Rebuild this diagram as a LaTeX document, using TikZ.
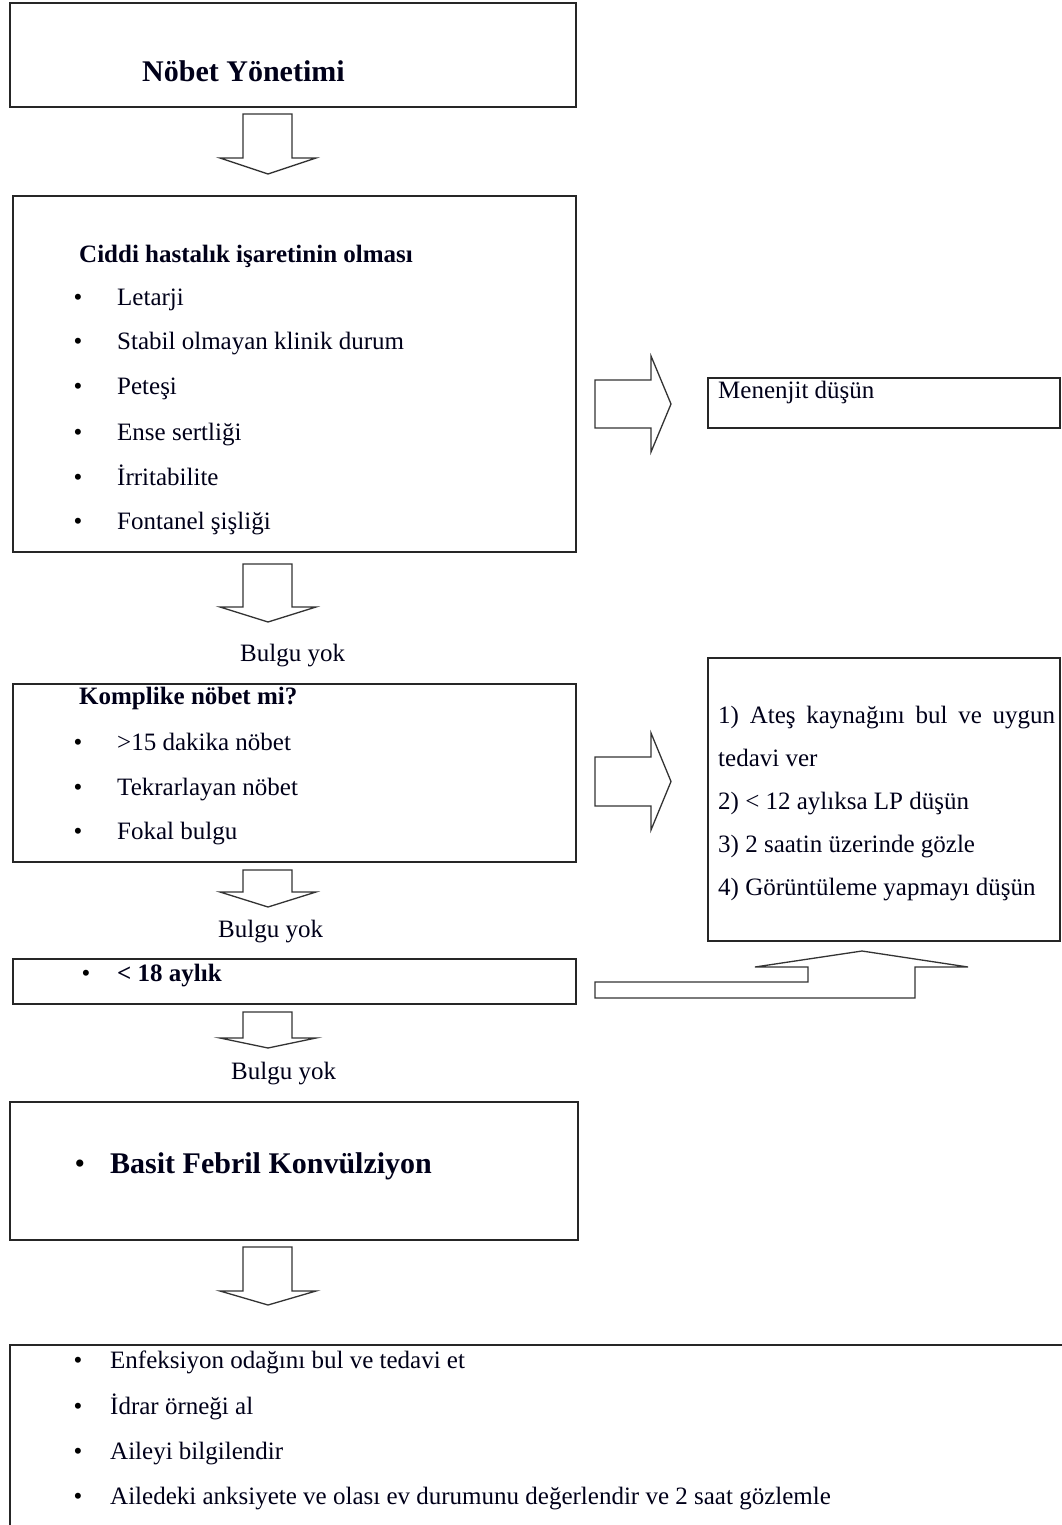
\documentclass[tikz,border=0pt]{standalone}
\usepackage{fontspec}
\setmainfont{Liberation Serif}
\tikzset{
  box/.style={draw=black!85, line width=1.4pt, anchor=north west, inner sep=0pt, outer sep=0pt},
  blk/.style={draw=black!80, line width=1.3pt, fill=white, line join=miter},
  txt/.style={anchor=base west, inner sep=0pt, text=black!90!blue, font=\fontsize{25}{30}\selectfont},
  btxt/.style={txt, font=\fontsize{25}{30}\selectfont\bfseries},
  bigtxt/.style={txt, font=\fontsize{30}{36}\selectfont\bfseries},
  bul/.style={anchor=base, inner sep=0pt, font=\fontsize{25}{30}\selectfont},
  bigbul/.style={anchor=base, inner sep=0pt, font=\fontsize{30}{36}\selectfont},
}
\newcommand\DArrowShape[3]{%
  \draw[blk] (243,#1) -- (292,#1) -- (292,#2) -- (316,#2) -- (268,#3) -- (220,#2) -- (243,#2) -- cycle;}
\newcommand\RArrowShape[4]{%
  \draw[blk] (595,#1) -- (651,#1) -- (651,#3) -- (671,{(#3+#4)/2}) -- (651,#4) -- (651,#2) -- (595,#2) -- cycle;}
\begin{document}
\begin{tikzpicture}[x=1pt,y=-1pt]
\clip (0,0) rectangle (1062,1525);
\fill[white] (0,0) rectangle (1062,1525);

% boxes
\node[box, minimum width=566pt, minimum height=104pt] (b1) at (10,3) {};
\node[box, minimum width=563pt, minimum height=356pt] (b2) at (13,196) {};
\node[box, minimum width=352pt, minimum height=50pt] (men) at (708,378) {};
\node[box, minimum width=563pt, minimum height=178pt] (b3) at (13,684) {};
\node[box, minimum width=352pt, minimum height=283pt] (rb) at (708,658) {};
\node[box, minimum width=563pt, minimum height=45pt] (b4) at (13,959) {};
\node[box, minimum width=568pt, minimum height=138pt] (b5) at (10,1102) {};
\node[box, minimum width=1070pt, minimum height=200pt] (b6) at (10,1345) {};

% block arrows
\DArrowShape{114}{158}{174}
\DArrowShape{564}{607}{622}
\DArrowShape{870}{892}{907}
\DArrowShape{1012}{1038}{1048}
\DArrowShape{1247}{1291}{1305}
\RArrowShape{380}{428}{356}{452}
\RArrowShape{757}{806}{733}{830}
\draw[blk] (595,982) -- (808,982) -- (808,967) -- (755,967) -- (862,951) -- (968,967)
  -- (915,967) -- (915,998) -- (595,998) -- cycle;

% texts
\node[bigtxt] (t1) at (142,82) {Nöbet Yönetimi};

\node[btxt] (t2) at (79,262) {Ciddi hastalık işaretinin olması};
\foreach \y/\s [count=\i] in {305/Letarji, 349/Stabil olmayan klinik durum, 394/Peteşi,
  440/Ense sertliği, 485/İrritabilite, 529/Fontanel şişliği}{
  \node[bul] (ba\i) at (78,\y) {•};
  \node[txt] (ta\i) at (117,\y) {\s};
}
\node[txt] (men1) at (718,398) {Menenjit düşün};

\node[txt] (by1) at (240,661) {Bulgu yok};
\node[btxt] (t3) at (79,704) {Komplike nöbet mi?};
\foreach \y/\s [count=\i] in {750/>15 dakika nöbet, 795/Tekrarlayan nöbet, 839/Fokal bulgu}{
  \node[bul] (bb\i) at (78,\y) {•};
  \node[txt] (tb\i) at (117,\y) {\s};
}
\node[txt] (r1) at (718,723) {\makebox[337pt][s]{1) Ateş kaynağını bul ve uygun}};
\node[txt] (r2) at (718,766) {tedavi ver};
\node[txt] (r3) at (718,809) {2) < 12 aylıksa LP düşün};
\node[txt] (r4) at (718,852) {3) 2 saatin üzerinde gözle};
\node[txt] (r5) at (718,895) {4) Görüntüleme yapmayı düşün};

\node[txt] (by2) at (218,937) {Bulgu yok};
\node[bul] (bc1) at (86,981) {•};
\node[btxt] (t4) at (117,981) {< 18 aylık};

\node[txt] (by3) at (231,1079) {Bulgu yok};
\node[bigbul] (bd1) at (80,1173) {•};
\node[bigtxt] (t5) at (110,1173) {Basit Febril Konvülziyon};

\foreach \y/\s [count=\i] in {1368/Enfeksiyon odağını bul ve tedavi et, 1414/İdrar örneği al,
  1459/Aileyi bilgilendir, 1504/Ailedeki anksiyete ve olası ev durumunu değerlendir ve 2 saat gözlemle}{
  \node[bul] (be\i) at (78,\y) {•};
  \node[txt] (te\i) at (110,\y) {\s};
}
\end{tikzpicture}
\end{document}
